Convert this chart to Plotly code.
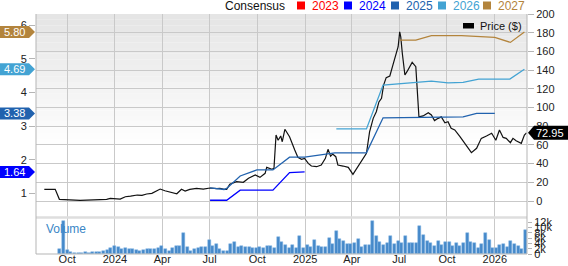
import plotly.graph_objects as go
import pandas as pd

# ---------------- data ----------------
price_dates = [
    "2023-08-18", "2023-09-08", "2023-09-16", "2023-10-26", "2023-12-16", "2023-12-23",
    "2024-01-11", "2024-01-21", "2024-01-31", "2024-02-13", "2024-02-22", "2024-03-02",
    "2024-03-12", "2024-03-21", "2024-03-28", "2024-04-06", "2024-04-16", "2024-04-29",
    "2024-05-08", "2024-05-15", "2024-05-24", "2024-06-06", "2024-06-19", "2024-07-02",
    "2024-07-15", "2024-07-21", "2024-07-29", "2024-08-03", "2024-08-09", "2024-08-22",
    "2024-09-04", "2024-09-14", "2024-09-27", "2024-10-06", "2024-10-16", "2024-10-19",
    "2024-10-29", "2024-11-02", "2024-11-06", "2024-11-10", "2024-11-15", "2024-11-18",
    "2024-11-23", "2024-12-02", "2024-12-12", "2024-12-18", "2024-12-25", "2024-12-31",
    "2025-01-07", "2025-01-13", "2025-01-23", "2025-02-01", "2025-02-09", "2025-02-14",
    "2025-02-19", "2025-02-23", "2025-03-01", "2025-03-05", "2025-03-15", "2025-03-25",
    "2025-04-03", "2025-04-13", "2025-04-22", "2025-04-29", "2025-05-05", "2025-05-12",
    "2025-05-18", "2025-05-23", "2025-05-28", "2025-06-01", "2025-06-06", "2025-06-13",
    "2025-06-19", "2025-06-24", "2025-06-29", "2025-07-02", "2025-07-04", "2025-07-07",
    "2025-07-12", "2025-07-16", "2025-07-21", "2025-07-26", "2025-08-02", "2025-08-08",
    "2025-08-16", "2025-08-26", "2025-09-01", "2025-09-07", "2025-09-14", "2025-09-20",
    "2025-09-27", "2025-10-03", "2025-10-09", "2025-10-16", "2025-10-26", "2025-11-04",
    "2025-11-10", "2025-11-17", "2025-11-27", "2025-12-06", "2025-12-16", "2025-12-26",
    "2026-01-03", "2026-01-10", "2026-01-17", "2026-01-23", "2026-01-31", "2026-02-05",
    "2026-02-11", "2026-02-21", "2026-02-27", "2026-03-03",
]
price_values = [
    12.5, 12.5, 1.8, 0.7, 1.8, 2.9,
    2.1, 4.6, 5.3, 6.4, 6.1, 7.5,
    8.2, 10.7, 12.8, 11.0, 9.3, 7.8,
    12.5, 10.7, 12.5, 13.6, 12.8, 13.9,
    13.2, 13.6, 12.5, 12.5, 18.0, 20.7,
    20.0, 24.3, 27.8, 25.3, 29.6, 36.0,
    34.0, 35.0, 70.6, 65.0, 69.5, 63.4,
    76.7, 68.8, 54.5, 46.7, 44.6, 45.6,
    40.3, 37.4, 36.7, 38.5, 45.6, 55.3,
    48.0, 50.3, 47.4, 38.5, 37.4, 36.0,
    28.5, 36.7, 43.9, 51.0, 74.0, 88.4,
    95.5, 106.0, 109.8, 124.0, 132.0, 133.7,
    145.5, 154.3, 165.0, 181.0, 175.7, 158.0,
    134.8, 138.3, 143.6, 148.3, 143.6, 90.0,
    91.0, 94.4, 92.0, 86.0, 88.4, 90.0,
    83.7, 84.8, 77.8, 76.0, 68.8, 61.7,
    56.4, 51.7, 56.4, 67.0, 69.5, 72.4,
    65.0, 76.0, 68.0, 67.0, 62.4, 67.0,
    64.5, 61.7, 70.6, 72.95,
]

eps2024_dates = ["2024-07-02", "2024-08-03", "2024-08-29", "2024-10-31", "2024-12-02", "2024-12-31"]
eps2024_values = [0.80, 0.80, 1.10, 1.10, 1.62, 1.64]

eps2025_dates = ["2024-07-02", "2024-07-29", "2024-08-03", "2024-08-29", "2024-09-30", "2024-10-31",
                 "2024-12-02", "2024-12-31", "2025-02-27", "2025-04-29", "2025-05-31", "2025-11-01",
                 "2025-11-27", "2026-01-01"]
eps2025_values = [1.17, 1.12, 1.15, 1.52, 1.70, 1.70, 2.08, 2.08, 2.21, 2.21, 3.25, 3.28, 3.38, 3.38]

eps2026_dates = ["2025-03-02", "2025-04-29", "2025-05-31", "2025-08-03", "2025-09-01", "2025-10-03",
                 "2025-11-01", "2025-12-01", "2026-01-30", "2026-02-27"]
eps2026_values = [2.92, 2.92, 4.22, 4.29, 4.34, 4.29, 4.30, 4.40, 4.40, 4.69]

eps2027_dates = ["2025-07-02", "2025-08-02", "2025-09-01", "2025-10-29", "2026-01-01", "2026-01-31", "2026-02-27"]
eps2027_values = [5.56, 5.56, 5.69, 5.69, 5.64, 5.49, 5.80]

volume_start = "2023-09-17"
volume_k = [
    1.7, 12.4, 1.5, 0.6, 0.4, 0.4, 0.5, 0.6, 0.5, 0.6, 0.75, 0.9, 1.1, 1.4, 2.1, 2.9, 2.5, 1.9,
    2.25, 1.75, 1.75, 1.6, 1.1, 1.5, 1.9, 1.9, 1.9, 2.25,
    3.0, 1.9, 1.1, 2.1, 2.9, 2.9, 7.9, 2.6, 1.25, 1.9, 2.25, 2.5, 2.5, 5.25, 2.9, 3.75, 1.75,
    1.0, 1.25, 3.9, 4.5, 2.6, 3.0, 2.75, 2.75, 2.4, 2.4, 2.6, 2.1, 3.0, 3.0, 2.25, 6.25, 4.4,
    3.25, 2.4, 3.25, 2.25, 6.6, 2.1, 3.5, 2.75, 5.25, 2.9, 2.5, 2.5, 5.9, 3.75, 8.5, 5.6, 5.0,
    3.6, 3.6, 4.25, 5.5, 2.75, 3.25, 3.25, 12.4, 6.6, 4.5, 3.4, 4.1, 6.75, 3.75, 4.9, 4.1,
    6.7, 4.25, 4.0, 4.0, 10.5, 7.0, 4.75, 4.25, 3.1, 4.9, 3.5, 4.4, 4.4, 3.1, 4.1, 3.0, 4.1,
    7.9, 4.4, 4.25, 2.4, 3.75, 7.75, 5.1, 2.4, 2.4, 3.25, 3.6, 2.75, 4.75, 3.9, 3.1, 1.9, 9.1,
]
volume_dates = pd.date_range(volume_start, periods=len(volume_k), freq="7D")

x_tick_dates = ["2023-10-01", "2024-01-01", "2024-04-01", "2024-07-01", "2024-10-01",
                "2025-01-01", "2025-04-01", "2025-07-01", "2025-10-01", "2026-01-01"]
x_tick_labels = ["Oct", "2024", "Apr", "Jul", "Oct", "2025", "Apr", "Jul", "Oct", "2026"]
price_ticks = [0, 20, 40, 60, 80, 100, 120, 140, 160, 180, 200]
eps_ticks = [1, 2, 3, 4, 5, 6]
volume_ticks = [0, 2, 4, 6, 8, 10, 12]
volume_tick_labels = ["0", "2k", "4k", "6k", "8k", "10k", "12k"]

legend_years = ["2023", "2024", "2025", "2026", "2027"]
year_colors = {"2023": "#ff0000", "2024": "#0000ff", "2025": "#2162ae",
               "2026": "#43a3d3", "2027": "#b3843c"}

# ---------------- layout geometry (pixels) ----------------
W, H = 568, 266
ML, MR, MT, MB = 36, 41, 14, 12
PW, PH = W - ML - MR, H - MT - MB


def px(X):
    return (X - ML) / PW


def py(Y):
    return (H - MB - Y) / PH


FONT = "Liberation Sans, Arial, sans-serif"
GRID = "#c9c9c9"
AXIS = "#b5b5b5"

fig = go.Figure()

# price
fig.add_trace(go.Scatter(x=price_dates, y=price_values, xaxis="x", yaxis="y",
                         mode="lines", line=dict(color="#111111", width=1.2),
                         showlegend=False, hoverinfo="skip"))
# consensus lines
for yr, d, v in [("2024", eps2024_dates, eps2024_values),
                 ("2025", eps2025_dates, eps2025_values),
                 ("2026", eps2026_dates, eps2026_values),
                 ("2027", eps2027_dates, eps2027_values)]:
    fig.add_trace(go.Scatter(x=d, y=v, xaxis="x", yaxis="y2", mode="lines",
                             line=dict(color=year_colors[yr], width=1.3),
                             showlegend=False, hoverinfo="skip"))
# volume
fig.add_trace(go.Bar(x=volume_dates, y=volume_k, xaxis="x", yaxis="y3",
                     width=5.8 * 86400000,
                     marker=dict(color="#4589ca", line=dict(color="#7fb2e0", width=0.5)),
                     showlegend=False, hoverinfo="skip"))

shapes = []
annotations = []

# gradient background in price panel
N = 24
top_y, fade_y = MT, 150
for k in range(N):
    y0 = top_y + (fade_y - top_y) * k / N
    y1 = top_y + (fade_y - top_y) * (k + 1) / N
    g = int(round(229 + (255 - 229) * k / (N - 1)))
    shapes.append(dict(type="rect", xref="paper", yref="paper", x0=0, x1=1,
                       y0=py(y1), y1=py(y0), line=dict(width=0),
                       fillcolor=f"rgb({g},{g},{g})", layer="below"))

# panel separator
shapes.append(dict(type="line", xref="paper", yref="paper", x0=0, x1=1,
                   y0=py(217.5), y1=py(217.5), line=dict(color="#dedede", width=2.5), layer="above"))
# border lines
shapes.append(dict(type="line", xref="paper", yref="paper", x0=0, x1=0, y0=0, y1=1,
                   line=dict(color=AXIS, width=1), layer="above"))
shapes.append(dict(type="line", xref="paper", yref="paper", x0=1, x1=1, y0=0, y1=1,
                   line=dict(color=AXIS, width=1), layer="above"))
shapes.append(dict(type="line", xref="paper", yref="paper", x0=0, x1=1, y0=0, y1=0,
                   line=dict(color=AXIS, width=1), layer="above"))

# top legend
annotations.append(dict(text="Consensus", xref="paper", yref="paper", x=px(223), y=py(5.5),
                        xanchor="left", yanchor="middle", showarrow=False,
                        font=dict(family=FONT, size=12, color="#111111")))
leg_sq_x = [297, 344, 391, 438, 483]
for yr, sx in zip(legend_years, leg_sq_x):
    shapes.append(dict(type="rect", xref="paper", yref="paper", x0=px(sx), x1=px(sx + 8),
                       y0=py(9.5), y1=py(1.5), fillcolor=year_colors[yr], line=dict(width=0)))
    annotations.append(dict(text=yr, xref="paper", yref="paper", x=px(sx + 13), y=py(5.5),
                            xanchor="left", yanchor="middle", showarrow=False,
                            font=dict(family=FONT, size=12, color=year_colors[yr])))

# price legend
shapes.append(dict(type="rect", xref="paper", yref="paper", x0=px(463), x1=px(474),
                   y0=py(28.5), y1=py(23), fillcolor="#000000", line=dict(width=0)))
annotations.append(dict(text="Price ($)", xref="paper", yref="paper", x=px(478), y=py(26),
                        xanchor="left", yanchor="middle", showarrow=False,
                        font=dict(family=FONT, size=11, color="#111111")))

# volume label
annotations.append(dict(text="Volume", xref="paper", yref="paper", x=px(44), y=py(229),
                        xanchor="left", yanchor="middle", showarrow=False,
                        font=dict(family=FONT, size=12, color="#3a86c6")))

# left consensus value tags
for yr, vals in [("2027", eps2027_values), ("2026", eps2026_values),
                 ("2025", eps2025_values), ("2024", eps2024_values)]:
    v = vals[-1]
    shapes.append(dict(type="path", xref="paper", yref="y2",
                       xsizemode="pixel", xanchor=0, ysizemode="pixel", yanchor=v,
                       path="M-36,-6 L-7,-6 L-1,0 L-7,6 L-36,6 Z",
                       fillcolor=year_colors[yr], line=dict(width=0), layer="above"))
    annotations.append(dict(text=f"{v:.2f}", xref="paper", yref="y2", x=0, y=v,
                            xanchor="center", yanchor="middle", xshift=-21.5, showarrow=False,
                            font=dict(family=FONT, size=11, color="#ffffff")))

# last price tag
last_price = price_values[-1]
shapes.append(dict(type="path", xref="paper", yref="y",
                   xsizemode="pixel", xanchor=1, ysizemode="pixel", yanchor=last_price,
                   path="M1,0 L7,-7 L41,-7 L41,7 L7,7 Z",
                   fillcolor="#000000", line=dict(width=0), layer="above"))
annotations.append(dict(text=f"{last_price:.2f}", xref="paper", yref="y", x=1, y=last_price,
                        xanchor="center", yanchor="middle", xshift=23, showarrow=False,
                        font=dict(family=FONT, size=11, color="#ffffff")))

price_bottom = 217
fig.update_layout(
    width=W, height=H,
    margin=dict(l=ML, r=MR, t=MT, b=MB, pad=0),
    paper_bgcolor="#ffffff", plot_bgcolor="#ffffff",
    font=dict(family=FONT, size=11, color="#222222"),
    showlegend=False, bargap=0,
    xaxis=dict(type="date", range=["2023-08-02", "2026-03-04"], domain=[0, 1], anchor="y3",
               tickmode="array", tickvals=x_tick_dates, ticktext=x_tick_labels,
               showgrid=True, gridcolor=GRID, gridwidth=1, ticks="", showline=False,
               zeroline=False, tickfont=dict(size=11, color="#222222"), automargin=False,
               ticklabelstandoff=-3),
    yaxis=dict(domain=[py(price_bottom), 1], range=[-17.1, 200], side="right", anchor="x",
               tickmode="array", tickvals=price_ticks, showgrid=True, gridcolor=GRID,
               gridwidth=1, zeroline=False, ticks="outside", ticklen=6, tickcolor=AXIS,
               showline=False, tickfont=dict(size=11, color="#222222"), automargin=False),
    yaxis2=dict(overlaying="y", side="left", range=[0.302, 6.334], anchor="x",
                tickmode="array", tickvals=eps_ticks, showgrid=False, zeroline=False,
                ticks="outside", ticklen=6, tickcolor=AXIS, showline=False,
                tickfont=dict(size=11, color="#222222"), automargin=False),
    yaxis3=dict(domain=[0, py(218)], range=[0, 13.5], side="right", anchor="x",
                tickmode="array", tickvals=volume_ticks, ticktext=volume_tick_labels,
                showgrid=False, zeroline=False, ticks="outside", ticklen=4, tickcolor=AXIS,
                showline=False, tickfont=dict(size=11, color="#222222"), automargin=False),
    shapes=shapes,
    annotations=annotations,
)

fig.write_html("out.html")
